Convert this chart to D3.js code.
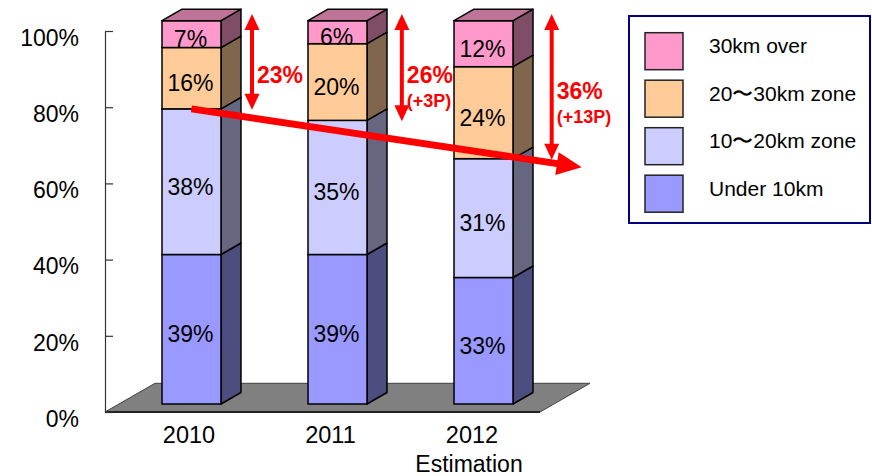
<!DOCTYPE html>
<html>
<head>
<meta charset="utf-8">
<script src="https://cdn.jsdelivr.net/npm/d3@7"></script>
<style>
  html, body { margin: 0; padding: 0; background: #fff; }
  svg { display: block; font-family: "Liberation Sans", Arial, sans-serif; }
</style>
</head>
<body>
<svg id="chart" width="872" height="476"></svg>
<script>
// Distance-band shares by year (percent)
const years = ["2010", "2011", "2012"];
const yearNotes = ["", "", "Estimation"];
const under10 = [39, 39, 33];
const from10to20 = [38, 35, 31];
const from20to30 = [16, 20, 24];
const over30 = [7, 6, 12];
const seriesKeys = ["under10", "from10to20", "from20to30", "over30"];
const seriesNames = ["Under 10km", "10〜20km zone", "20〜30km zone", "30km over"];
const seriesColors = ["#9999FF", "#CCCCFF", "#FFCC99", "#FF99CC"];
const yTicks = [0, 20, 40, 60, 80, 100];

const rows = years.map((y, i) => ({
  year: y,
  under10: under10[i],
  from10to20: from10to20[i],
  from20to30: from20to30[i],
  over30: over30[i]
}));
// share of trips beyond 20km, and its change from 2010
const farShare = years.map((y, i) => from20to30[i] + over30[i]);

const svg = d3.select("#chart");
const red = "#FF0000";

// scales: back-wall axis, bar front plane, category labels, annotations
const axisX = 105;
const yAxis = d3.scaleLinear().domain([0, 100]).range([412, 31]);
const yBar = d3.scaleLinear().domain([0, 100]).range([404, 20.7]);
const xBar = d3.scaleBand().domain(years).range([162, 513]).paddingInner(0.596).paddingOuter(0);
const xLabel = d3.scalePoint().domain(years).range([189, 472]);
const xNote = d3.scalePoint().domain(years).range([252, 551.7]);
const depth = { dx: 20, dy: -11.5 };
const floorDepth = { dx: 50, dy: -28.7 };

const shade = (c, k) => {
  const r = d3.rgb(c);
  return d3.rgb(r.r * k, r.g * k, r.b * k).formatHex();
};

// floor
const f0 = yAxis(0);
svg.append("polygon")
  .attr("points", [
    [axisX, f0],
    [axisX + floorDepth.dx, f0 + floorDepth.dy],
    [590, f0 + floorDepth.dy],
    [540, f0]
  ].map(p => p.join(",")).join(" "))
  .attr("fill", "#808080")
  .attr("stroke", "#404040")
  .attr("stroke-width", 1);
svg.append("line")
  .attr("x1", axisX).attr("x2", 540)
  .attr("y1", f0).attr("y2", f0)
  .attr("stroke", "#222").attr("stroke-width", 2);

// value axis
const axis = d3.axisLeft(yAxis)
  .tickValues(yTicks)
  .tickFormat(d => d + "%")
  .tickSizeInner(-8)
  .tickSizeOuter(0)
  .tickPadding(26);
const gAxis = svg.append("g").attr("transform", `translate(${axisX},0)`).call(axis);
gAxis.select(".domain").attr("stroke", "#333").attr("stroke-width", 1.2);
gAxis.selectAll(".tick line").attr("stroke", "#333").attr("stroke-width", 1.2);
gAxis.selectAll(".tick text")
  .attr("font-size", 23)
  .attr("fill", "#000")
  .attr("font-family", "'Liberation Sans', Arial, sans-serif")
  .attr("dy", "0.62em");

// stacked 3D columns
const stacked = d3.stack().keys(seriesKeys)(rows);
const bw = xBar.bandwidth();
const gBars = svg.append("g");
years.forEach((yr, i) => {
  const x0 = xBar(yr), x1 = x0 + bw;
  stacked.forEach((layer, s) => {
    const [v0, v1] = layer[i];
    const yb = yBar(v0), yt = yBar(v1);
    const col = seriesColors[s];
    // right side face
    gBars.append("polygon")
      .attr("points", [[x1, yb], [x1 + depth.dx, yb + depth.dy], [x1 + depth.dx, yt + depth.dy], [x1, yt]]
        .map(p => p.join(",")).join(" "))
      .attr("fill", shade(col, 0.5))
      .attr("stroke", "#000").attr("stroke-width", 1.5).attr("stroke-linejoin", "round");
    // front face
    gBars.append("rect")
      .attr("x", x0).attr("y", yt)
      .attr("width", bw).attr("height", yb - yt)
      .attr("fill", col)
      .attr("stroke", "#000").attr("stroke-width", 1.5);
    // top face on the last segment
    if (s === stacked.length - 1) {
      gBars.append("polygon")
        .attr("points", [[x0, yt], [x0 + depth.dx, yt + depth.dy], [x1 + depth.dx, yt + depth.dy], [x1, yt]]
          .map(p => p.join(",")).join(" "))
        .attr("fill", shade(col, 0.75))
        .attr("stroke", "#000").attr("stroke-width", 1.5).attr("stroke-linejoin", "round");
    }
  });
  // segment value labels
  stacked.forEach((layer, s) => {
    const [v0, v1] = layer[i];
    gBars.append("text")
      .attr("x", x0 + bw / 2 - 1)
      .attr("y", (yBar(v0) + yBar(v1)) / 2 + 5)
      .attr("dy", "0.35em")
      .attr("text-anchor", "middle")
      .attr("font-size", 23)
      .attr("fill", "#000")
      .text((v1 - v0) + "%");
  });
});

// category labels
const gCat = svg.append("g");
years.forEach((yr, i) => {
  gCat.append("text")
    .attr("x", xLabel(yr)).attr("y", 443)
    .attr("text-anchor", "middle").attr("font-size", 23.5).attr("fill", "#000")
    .text(yr);
  if (yearNotes[i]) {
    gCat.append("text")
      .attr("x", xLabel(yr) - 3).attr("y", 472)
      .attr("text-anchor", "middle").attr("font-size", 23).attr("fill", "#000")
      .text(yearNotes[i]);
  }
});

// red double-headed arrows showing the >20km share
const gNote = svg.append("g");
const headW = 7.5, headL = 16, shaftW = 4;
years.forEach((yr, i) => {
  const x = xNote(yr);
  const top = yBar(100) - 6.7;
  const bot = yBar(100 - farShare[i]) + 1;
  gNote.append("line")
    .attr("x1", x).attr("x2", x)
    .attr("y1", top + headL - 1).attr("y2", bot - headL + 1)
    .attr("stroke", red).attr("stroke-width", shaftW);
  gNote.append("polygon")
    .attr("points", [[x, top], [x - headW, top + headL], [x + headW, top + headL]].map(p => p.join(",")).join(" "))
    .attr("fill", red);
  gNote.append("polygon")
    .attr("points", [[x, bot], [x - headW, bot - headL], [x + headW, bot - headL]].map(p => p.join(",")).join(" "))
    .attr("fill", red);
  const base = Math.max(83, (top + bot) / 2 + 12);
  gNote.append("text")
    .attr("x", x + 5).attr("y", base)
    .attr("font-size", 23).attr("font-weight", "bold").attr("fill", red)
    .text(farShare[i] + "%");
  const diff = farShare[i] - farShare[0];
  if (i > 0) {
    gNote.append("text")
      .attr("x", x + 5).attr("y", base + 24)
      .attr("font-size", 18).attr("font-weight", "bold").attr("fill", red)
      .text(`(+${diff}P)`);
  }
});

// trend arrow across the tops of the near-distance bands
const last = years.length - 1;
const start = [xBar(years[0]) + bw / 2, yBar(under10[0] + from10to20[0])];
const tip = [xNote(years[last]) + 30, yBar(under10[last] + from10to20[last]) + 8.6];
const ang = Math.atan2(tip[1] - start[1], tip[0] - start[0]);
const ux = Math.cos(ang), uy = Math.sin(ang);
const hl = 25, hw = 11.5, sw = 7;
const base = [tip[0] - ux * hl, tip[1] - uy * hl];
gNote.append("line")
  .attr("x1", start[0]).attr("y1", start[1])
  .attr("x2", base[0] + ux * 2).attr("y2", base[1] + uy * 2)
  .attr("stroke", red).attr("stroke-width", sw);
gNote.append("polygon")
  .attr("points", [
    tip,
    [base[0] - uy * hw, base[1] + ux * hw],
    [base[0] + uy * hw, base[1] - ux * hw]
  ].map(p => p.join(",")).join(" "))
  .attr("fill", red);

// legend
const gLeg = svg.append("g");
gLeg.append("rect")
  .attr("x", 629).attr("y", 16).attr("width", 241).attr("height", 207)
  .attr("fill", "#fff").attr("stroke", "#000080").attr("stroke-width", 2);
const legendOrder = d3.range(seriesNames.length).reverse();
legendOrder.forEach((s, k) => {
  const ty = 32.7 + k * 47.5;
  gLeg.append("rect")
    .attr("x", 645).attr("y", ty).attr("width", 38).attr("height", 37)
    .attr("fill", seriesColors[s]).attr("stroke", "#222").attr("stroke-width", 1.5);
  gLeg.append("text")
    .attr("x", 709).attr("y", ty + 20.6)
    .attr("font-size", 21).attr("fill", "#000")
    .text(seriesNames[s]);
});
</script>
</body>
</html>
